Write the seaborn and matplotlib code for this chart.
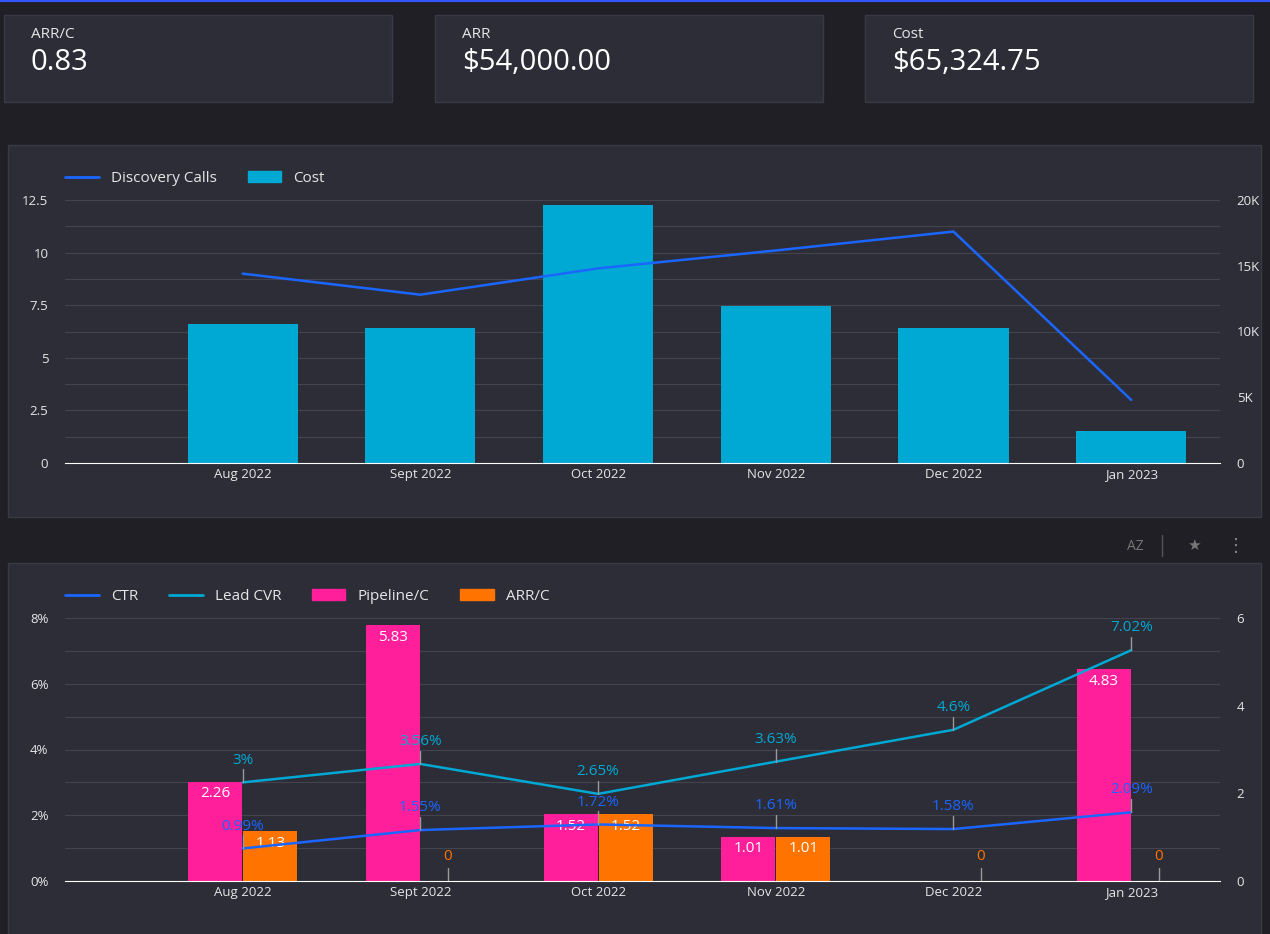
import numpy as np
import pandas as pd
import matplotlib
matplotlib.use("Agg")
import matplotlib.pyplot as plt
from matplotlib.patches import Rectangle, Patch
from matplotlib.lines import Line2D
import seaborn as sns

months = ["Aug 2022", "Sept 2022", "Oct 2022", "Nov 2022", "Dec 2022", "Jan 2023"]
discovery_calls = [9.0, 8.0, 9.25, 10.1, 11.0, 3.0]
cost = [10600, 10250, 19600, 11950, 10250, 2450]
ctr = [0.99, 1.55, 1.72, 1.61, 1.58, 2.09]
lead_cvr = [3.0, 3.56, 2.65, 3.63, 4.6, 7.02]
pipeline_c = [2.26, 5.83, 1.52, 1.01, 0, 4.83]
arr_c = [1.13, 0, 1.52, 1.01, 0, 0]
kpi_labels = ["ARR/C", "ARR", "Cost"]
kpi_values = ["0.83", "$54,000.00", "$65,324.75"]

BG = "#1f1f25"
PANEL = "#2d2d38"
TXT = "#e6e6e6"
GRID = "#44444f"
BLUE = "#1a66ff"
TEAL = "#00a9d4"
PINK = "#ff1f9a"
ORANGE = "#ff7300"
W, H = 1270, 934

sns.set_style("dark")
plt.rcParams["font.family"] = ["Open Sans", "DejaVu Sans"]
fig = plt.figure(figsize=(12.7, 9.34), dpi=100, facecolor=BG)

def box(x, y, w, h):
    return [x / W, 1 - (y + h) / H, w / W, h / H]

# panels
bg = fig.add_axes([0, 0, 1, 1], zorder=-10)
bg.set_xlim(0, W); bg.set_ylim(H, 0); bg.axis("off")
bg.plot([0, W], [1, 1], color="#3355ff", lw=1.5)
for i, x0 in enumerate([4, 435, 865]):
    bg.add_patch(Rectangle((x0, 15), 388, 87, facecolor=PANEL, edgecolor="#3a3a46", lw=1))
    bg.text(x0 + 27, 34, kpi_labels[i], color=TXT, fontsize=11, va="center")
    bg.text(x0 + 27, 62, kpi_values[i], color="white", fontsize=21, va="center")
bg.add_patch(Rectangle((8, 145), 1253, 372, facecolor=PANEL, edgecolor="#3a3a46", lw=1))
bg.add_patch(Rectangle((8, 563), 1253, 380, facecolor=PANEL, edgecolor="#3a3a46", lw=1))
bg.text(1135, 546, "AZ", color="#777", fontsize=10, va="center", ha="center")
bg.plot([1162, 1162], [535, 556], color="#555", lw=1)
bg.text(1194, 546, "\u2605", color="#777", fontsize=11, va="center", ha="center")
bg.text(1236, 546, "\u22ee", color="#888", fontsize=13, va="center", ha="center")

def style(ax, ax2):
    for a in (ax, ax2):
        a.set_facecolor("none")
        for s in a.spines.values():
            s.set_visible(False)
        a.tick_params(colors=TXT, labelsize=9.5, length=0)
        a.set_xlabel(""); a.set_ylabel("")
    ax.spines["bottom"].set_visible(True)
    ax.spines["bottom"].set_color("white")
    ax.set_xticks(range(6)); ax.set_xticklabels(months)
    ax.set_zorder(1); ax2.set_zorder(2)
    ax.set_xlim(-1, 5.5); ax2.set_xlim(-1, 5.5)
    ax.yaxis.tick_right(); ax2.yaxis.tick_left()
    ax.tick_params(axis="y", pad=12); ax2.tick_params(axis="y", pad=12)

# ---------- top chart
ax = fig.add_axes(box(65, 200, 1155, 263))
df1 = pd.DataFrame({"month": months, "cost": cost})
sns.barplot(data=df1, x="month", y="cost", color=TEAL, saturation=1, width=0.62,
            linewidth=0, ax=ax)
ax.set_ylim(0, 20000)
ax.set_yticks([0, 5000, 10000, 15000, 20000])
ax.set_yticklabels(["0", "5K", "10K", "15K", "20K"])
for v in range(2000, 20001, 2000):
    ax.axhline(v, color=GRID, lw=0.8, zorder=0)
ax2 = ax.twinx()
sns.lineplot(x=np.arange(6), y=discovery_calls, color=BLUE, lw=1.8, ax=ax2)
ax2.set_ylim(0, 12.5)
ax2.set_yticks([0, 2.5, 5, 7.5, 10, 12.5])
ax2.set_yticklabels(["0", "2.5", "5", "7.5", "10", "12.5"])
style(ax, ax2)
ax.legend(handles=[Line2D([], [], color=BLUE, lw=2), Patch(color=TEAL)],
          labels=["Discovery Calls", "Cost"], loc="lower left", bbox_to_anchor=(-0.005, 1.03),
          ncol=2, frameon=False, labelcolor=TXT, fontsize=11, handlelength=2.2, borderaxespad=0)

# ---------- bottom chart
bx = fig.add_axes(box(65, 618, 1155, 263))
df2 = pd.DataFrame({"month": months * 2, "val": pipeline_c + arr_c,
                    "series": ["Pipeline/C"] * 6 + ["ARR/C"] * 6})
sns.barplot(data=df2, x="month", y="val", hue="series", palette=[PINK, ORANGE],
            saturation=1, width=0.62, gap=0.02, linewidth=0, ax=bx, legend=False)
bx.set_ylim(0, 6)
bx.set_yticks([0, 2, 4, 6])
for v in np.arange(0.75, 6.01, 0.75):
    bx.axhline(v, color=GRID, lw=0.8, zorder=0)
for cont, color in zip(bx.containers, [PINK, ORANGE]):
    for rect in cont:
        h = rect.get_height()
        cx = rect.get_x() + rect.get_width() / 2
        if h > 0:
            bx.text(cx, h - 0.1, f"{h:g}", color="white", fontsize=11, ha="center", va="top", zorder=5)
        elif color == ORANGE:
            bx.plot([cx, cx], [0.02, 0.3], color="#999", lw=1)
            bx.text(cx, 0.38, "0", color=ORANGE, fontsize=11, ha="center", va="bottom")
bx2 = bx.twinx()
x = np.arange(6)
sns.lineplot(x=x, y=ctr, color=BLUE, lw=1.8, ax=bx2)
sns.lineplot(x=x, y=lead_cvr, color=TEAL, lw=1.8, ax=bx2)
bx2.set_ylim(0, 8)
bx2.set_yticks([0, 2, 4, 6, 8])
bx2.set_yticklabels(["0%", "2%", "4%", "6%", "8%"])
for series, color in [(ctr, BLUE), (lead_cvr, TEAL)]:
    for xi, v in zip(x, series):
        bx2.plot([xi, xi], [v, v + 0.4], color="#999", lw=1)
        bx2.text(xi, v + 0.45, f"{v:g}%", color=color, fontsize=11, ha="center", va="bottom")
style(bx, bx2)
bx.legend(handles=[Line2D([], [], color=BLUE, lw=2), Line2D([], [], color=TEAL, lw=2),
                   Patch(color=PINK), Patch(color=ORANGE)],
          labels=["CTR", "Lead CVR", "Pipeline/C", "ARR/C"], loc="lower left",
          bbox_to_anchor=(-0.005, 1.03), ncol=4, frameon=False, labelcolor=TXT,
          fontsize=11, handlelength=2.2, borderaxespad=0)

fig.savefig("out.png", dpi=100, facecolor=BG)
